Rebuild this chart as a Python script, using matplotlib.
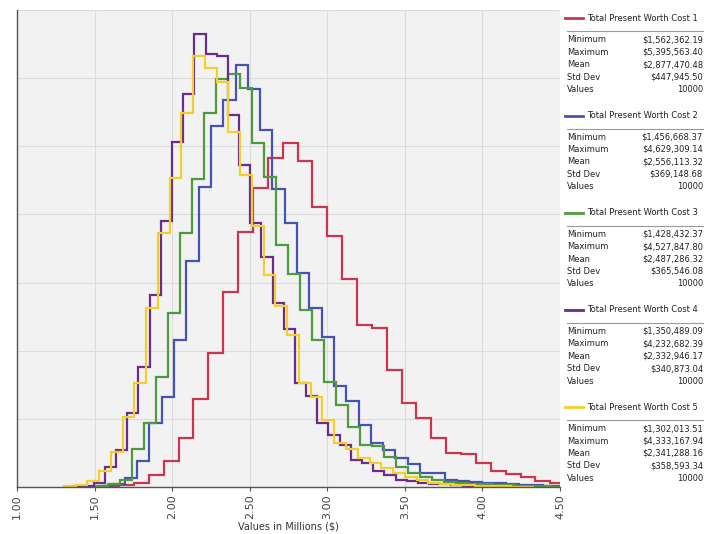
import matplotlib
matplotlib.use("Agg")
import matplotlib.pyplot as plt
import numpy as np
from matplotlib.lines import Line2D

# series summary (from the legend panel)
names = ["Total Present Worth Cost 1", "Total Present Worth Cost 2", "Total Present Worth Cost 3",
         "Total Present Worth Cost 4", "Total Present Worth Cost 5"]
colors = ["#c8374f", "#4753b3", "#4f9a3f", "#6a2d8c", "#f2cf2a"]
minimum = [1562362.19, 1456668.37, 1428432.37, 1350489.09, 1302013.51]
maximum = [5395563.40, 4629309.14, 4527847.80, 4232682.39, 4333167.94]
mean    = [2877470.48, 2556113.32, 2487286.32, 2332946.17, 2341288.16]
std_dev = [447945.50, 369148.68, 365546.08, 340873.04, 358593.34]
n_values = [10000, 10000, 10000, 10000, 10000]
n_bins = 40

# probability density per bin, 40 bins from min to max
dens_1 = [0.003, 0.005, 0.012, 0.035, 0.077, 0.145, 0.258, 0.393, 0.571, 0.748,
          0.877, 0.965, 1.009, 0.958, 0.823, 0.738, 0.611, 0.476, 0.466, 0.344,
          0.248, 0.202, 0.145, 0.101, 0.097, 0.071, 0.048, 0.037, 0.028, 0.019,
          0.013, 0.010, 0.008, 0.006, 0.005, 0.003, 0.002, 0.002, 0.001, 0.001]
dens_2 = [0.001, 0.003, 0.008, 0.026, 0.077, 0.187, 0.265, 0.430, 0.662, 0.880,
          1.060, 1.137, 1.239, 1.168, 1.049, 0.874, 0.774, 0.628, 0.525, 0.440,
          0.295, 0.253, 0.182, 0.128, 0.109, 0.084, 0.067, 0.042, 0.042, 0.021,
          0.018, 0.016, 0.013, 0.011, 0.009, 0.007, 0.005, 0.003, 0.002, 0.001]
dens_3 = [0.001, 0.003, 0.008, 0.021, 0.111, 0.187, 0.324, 0.512, 0.745, 0.904,
          1.097, 1.197, 1.213, 1.171, 1.010, 0.909, 0.711, 0.626, 0.520, 0.430,
          0.307, 0.241, 0.177, 0.123, 0.120, 0.087, 0.058, 0.042, 0.030, 0.021,
          0.015, 0.013, 0.010, 0.009, 0.007, 0.006, 0.004, 0.003, 0.002, 0.001]
dens_4 = [0.001, 0.003, 0.012, 0.058, 0.109, 0.216, 0.352, 0.564, 0.782, 1.014,
          1.153, 1.330, 1.272, 1.266, 1.093, 0.944, 0.774, 0.676, 0.541, 0.463,
          0.306, 0.267, 0.187, 0.153, 0.123, 0.079, 0.070, 0.048, 0.035, 0.021,
          0.018, 0.012, 0.010, 0.008, 0.006, 0.004, 0.003, 0.002, 0.001, 0.001]
dens_5 = [0.002, 0.006, 0.018, 0.048, 0.104, 0.206, 0.305, 0.525, 0.745, 0.907,
          1.097, 1.264, 1.230, 1.190, 1.043, 0.916, 0.765, 0.623, 0.530, 0.446,
          0.306, 0.265, 0.197, 0.128, 0.111, 0.084, 0.070, 0.055, 0.040, 0.028,
          0.021, 0.012, 0.009, 0.007, 0.005, 0.004, 0.003, 0.002, 0.001, 0.001]
densities = [dens_1, dens_2, dens_3, dens_4, dens_5]

W, H = 716, 534


def fx(px):
    return px / W


def fy(py):
    return 1 - py / H


fig = plt.figure(figsize=(W / 100, H / 100), dpi=100)
ax = fig.add_axes([fx(17), 47 / H, 543 / W, 477 / H])
ax.set_facecolor("#f2f2f2")

for lo, hi, d, c in zip(minimum, maximum, densities, colors):
    edges = np.linspace(lo / 1e6, hi / 1e6, n_bins + 1)
    ax.stairs(d, edges, baseline=0, color=c, lw=1.6)

ax.set_xlim(1.0, 4.5)
ax.set_ylim(0, 1.4)
xt = np.arange(1.0, 4.51, 0.5)
ax.set_xticks(xt)
ax.set_xticklabels([f"{v:.2f}" for v in xt], rotation=90, fontsize=8, color="#444444")
ax.set_yticks(np.arange(0, 1.41, 0.2))
ax.set_yticklabels([])
ax.tick_params(axis="y", length=0)
ax.tick_params(axis="x", length=3, color="#555555", pad=2)
ax.grid(color="#dcdcdc", lw=0.8)
ax.set_axisbelow(True)
for s in ["top", "right"]:
    ax.spines[s].set_visible(False)
for s in ["left", "bottom"]:
    ax.spines[s].set_color("#555555")
    ax.spines[s].set_linewidth(1.0)
ax.set_xlabel("Values in Millions ($)", fontsize=7, color="#333333", labelpad=2)

# legend / statistics panel
row_names = ["Minimum", "Maximum", "Mean", "Std Dev", "Values"]
for i in range(5):
    ty = 18.3 + 97.2 * i
    fig.add_artist(Line2D([fx(565), fx(583)], [fy(ty), fy(ty)], color=colors[i], lw=2))
    fig.text(fx(587), fy(ty), names[i], fontsize=6, va="center", ha="left", color="#222222")
    fig.add_artist(Line2D([fx(567), fx(703)], [fy(ty + 13)] * 2, color="#9a9a9a", lw=0.8))
    vals = [f"${minimum[i]:,.2f}", f"${maximum[i]:,.2f}", f"${mean[i]:,.2f}",
            f"${std_dev[i]:,.2f}", f"{n_values[i]}"]
    for j, (rn, v) in enumerate(zip(row_names, vals)):
        ry = ty + 21.5 + 12.4 * j
        fig.text(fx(567), fy(ry), rn, fontsize=6, va="center", ha="left", color="#222222")
        fig.text(fx(703), fy(ry), v, fontsize=6, va="center", ha="right", color="#222222")

fig.savefig("out.png", dpi=100)
